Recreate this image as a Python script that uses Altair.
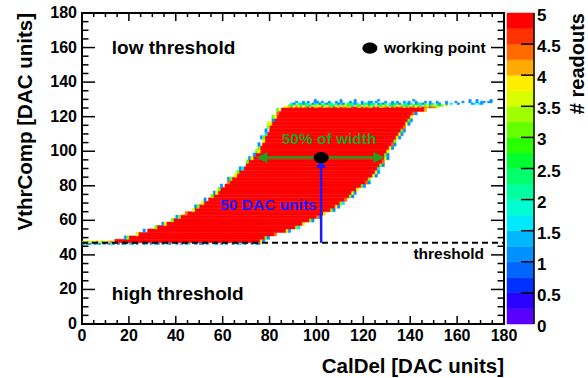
import altair as alt
import pandas as pd

FONT = "Liberation Sans"
W, H = 422, 311  # plot frame in pixels

# ---- palette: 20 contour levels of "# readouts" from 0 to 5 ----
level_lo = [0.0, 0.25, 0.5, 0.75, 1.0, 1.25, 1.5, 1.75, 2.0, 2.25,
            2.5, 2.75, 3.0, 3.25, 3.5, 3.75, 4.0, 4.25, 4.5, 4.75]
palette = ["#5a00ff", "#2a00ff", "#0030ff", "#0066ff", "#0090ff",
           "#00b8ff", "#00eaff", "#00ffd0", "#00ffa0", "#00ff6a",
           "#00ff30", "#2aff00", "#66ff00", "#a0ff00", "#d8ff00",
           "#ffee00", "#ffaa00", "#ff6a00", "#ff3300", "#ff0000"]
bar_labels = ["0", "0.5", "1", "1.5", "2", "2.5", "3", "3.5", "4", "4.5", "5"]
bar_ticks = [0.5, 1.0, 1.5, 2.0, 2.5, 3.0, 3.5, 4.0, 4.5]

# readout counts used for the speckled edge cells
codes = {"r": 5.0, "R": 4.6, "o": 4.4, "a": 4.1, "y": 3.9, "l": 3.6,
         "g": 3.1, "G": 2.6, "e": 2.1, "c": 1.6, "b": 1.1, "B": 0.9}

# ---- fully efficient plateau (5 readouts), rows of 2 VthrComp units ----
row_bottom = [47, 49, 51, 53, 55, 57, 59, 61, 63, 65, 67, 69, 71, 73, 75,
              77, 79, 81, 83, 85, 87, 89, 91, 93, 95, 97, 99, 101, 103, 105,
              107, 109, 111, 113, 115, 117, 119, 121, 123]
row_left = [14, 20, 24, 28, 32, 36, 39, 42, 45, 48, 50, 52, 54, 56, 58,
            59, 61, 63, 64, 66, 67, 69, 70, 71, 73, 74, 76, 76, 77, 78,
            78, 79, 80, 80, 81, 82, 83, 84, 85]
row_right = [76, 78, 82, 87, 91, 94, 97, 100, 103, 106, 108, 110, 112, 114, 115,
             117, 119, 121, 122, 124, 125, 126, 127, 128, 129, 129, 130, 131, 132, 133,
             134, 135, 136, 137, 138, 139, 140, 141, 146]
# partially efficient cells just outside the plateau (outer, inner) / (inner, outer)
left_edge = ["..", "bg", ".l", "b.", ".g", "by", ".g", "bg", ".o", ".l",
             "bg", ".y", "b.", ".g", "bl", ".g", "b.", ".o", "bg", ".l",
             ".g", "bc", "..", ".g", "bl", ".b", "gy", ".g", "b.", ".l",
             "bg", ".c", "b.", ".g", "ly", ".b", "gl", ".o", "g."]
right_edge = ["yb", "gb", "o.", "lb", "gc", "y.", "gb", "ob", "l.", "gb",
              "yb", "gc", "o.", "gb", "lb", "y.", "gb", "ob", "g.", "lb",
              "yb", "c.", "gb", "o.", "lb", "gb", "y.", "lb", "ob", "g.",
              "lb", "yb", "gb", "o.", "lb", "gb", "y.", "ob", "a."]

# single-unit speckle rows: (VthrComp, first CalDel, cells)
speckle_rows = [
    (46, 0, "bcbb.bcb.b.bcb.b.bb.cb.b..bc.b.bb.b.cb..b.b.bc..b.bb.b..cb.b.b..b.bc.b..b.bb"),
    (47, 0, "gyalgyoyglyaoy"),
    (125, 86, "lyaoyRaoyoRaryaoRyaoaRoyRaoyaRroyRaoayRoRyaoRyRaroRyoaRoyRaroaRooy"),
    (126, 88, "gGlgyGlgeGlglyGglgcGlgyglGgclgGyglGgelgGlglcGgylgeGglGlgcyglGglgGg.l"),
    (127, 89, "cb.ecbGc.bceb.cbGe.cbcb.eGcbc.bcebGc.bcbe.cbGcb.ecbc.bGcbe.bc.cb..b.c..b.....bc.cb"),
    (128, 90, ".b..b.b..bb.b..b..b.b...b.b..b..bb.b...b..b.b..b.b..b...b.b..b...b...b..b..b..b.bb.bb"),
    (129, 95, "....b..........b.....b.........b..............b.......................b..b.....b"),
]

cells = []
for y_row, x0, s in speckle_rows:
    for k, ch in enumerate(s):
        if ch != "." and x0 + k < 180:
            cells.append((x0 + k, x0 + k + 1, y_row, y_row + 1, codes[ch]))
for yb, xl, xr, le, re in zip(row_bottom, row_left, row_right, left_edge, right_edge):
    cells.append((xl, xr, yb, yb + 2, 5.0))
    for k, ch in enumerate(le):
        if ch != ".":
            cells.append((xl - 2 + k, xl - 1 + k, yb, yb + 2, codes[ch]))
    for k, ch in enumerate(re):
        if ch != ".":
            cells.append((xr + k, xr + k + 1, yb, yb + 2, codes[ch]))
cells_df = pd.DataFrame(cells, columns=["x1", "x2", "y1", "y2", "v"])

# ---- axes ----
x_major = [0, 20, 40, 60, 80, 100, 120, 140, 160, 180]
y_major = [0, 20, 40, 60, 80, 100, 120, 140, 160, 180]
minor = [v for v in range(0, 181, 5) if v % 20]

# ---- annotations ----
threshold = 47
working_point = (102, 96.3)
width_arrow = (74.4, 129.0)
dac_arrow_top = 93.5

XS = alt.Scale(domain=[0, 180], nice=False, zero=False)
YS = alt.Scale(domain=[0, 180], nice=False, zero=False)
ZS = alt.Scale(domain=[0, 5], nice=False, zero=False)
CS = alt.Scale(type="threshold", domain=level_lo[1:], range=palette)


def X(field):
    return alt.X(field, type="quantitative", scale=XS, axis=None)


def Y(field):
    return alt.Y(field, type="quantitative", scale=YS, axis=None)


heat = alt.Chart(cells_df).mark_rect(strokeWidth=0.5).encode(
    x=X("x1"), x2="x2:Q", y=Y("y1"), y2="y2:Q",
    color=alt.Color("v:Q", scale=CS, legend=None),
    stroke=alt.Stroke("v:Q", scale=CS, legend=None),
)

thr_line = alt.Chart(pd.DataFrame({"x1": [0], "x2": [180], "y": [threshold]})).mark_rule(
    color="black", strokeWidth=2, strokeDash=[6, 4]
).encode(x=X("x1"), x2="x2:Q", y=Y("y"))

BLUE = "#1a1aff"
GREEN = "#1f9e1f"

dac_line = alt.Chart(pd.DataFrame({"x": [working_point[0]], "y1": [threshold], "y2": [dac_arrow_top]})).mark_rule(
    color=BLUE, strokeWidth=2.5
).encode(x=X("x"), y=Y("y1"), y2="y2:Q")
dac_head = alt.Chart(pd.DataFrame({"x": [working_point[0]], "y": [dac_arrow_top + 1.5]})).mark_point(
    shape="M0,0L-1,1.6L1,1.6Z", filled=True, opacity=1, size=100, color=BLUE
).encode(x=X("x"), y=Y("y"))

width_line = alt.Chart(pd.DataFrame({"x1": [width_arrow[0] + 2], "x2": [width_arrow[1] - 2],
                                     "y": [working_point[1]]})).mark_rule(
    color=GREEN, strokeWidth=2.5
).encode(x=X("x1"), x2="x2:Q", y=Y("y"))
head_left = alt.Chart(pd.DataFrame({"x": [width_arrow[0]], "y": [working_point[1]]})).mark_point(
    shape="M0,0L2,-1L2,1Z", filled=True, opacity=1, size=121, color=GREEN
).encode(x=X("x"), y=Y("y"))
head_right = alt.Chart(pd.DataFrame({"x": [width_arrow[1]], "y": [working_point[1]]})).mark_point(
    shape="M0,0L-2,-1L-2,1Z", filled=True, opacity=1, size=121, color=GREEN
).encode(x=X("x"), y=Y("y"))

ELLIPSE = "M-1,0A1,0.75 0 1,1 1,0A1,0.75 0 1,1 -1,0Z"
points = alt.Chart(pd.DataFrame({"x": [working_point[0], 122.8], "y": [working_point[1], 159.7]})).mark_point(
    shape=ELLIPSE, filled=True, opacity=1, size=225, color="black"
).encode(x=X("x"), y=Y("y"))


def label(text, x, y, size, color="black", align="left"):
    return alt.Chart(pd.DataFrame({"t": [text], "x": [x], "y": [y]})).mark_text(
        font=FONT, fontWeight="bold", fontSize=size, color=color, align=align, baseline="alphabetic"
    ).encode(x=X("x"), y=Y("y"), text="t:N")


texts = [
    label("low threshold", 12.7, 156.3, 19),
    label("high threshold", 12.7, 13.9, 19),
    label("working point", 128.8, 156.8, 15.5),
    label("threshold", 171.5, 37.6, 15.5, align="right"),
    label("50 DAC units", 100.1, 66.0, 15.5, color=BLUE, align="right"),
    label("50% of width", 105.4, 104.0, 15.5, color=GREEN, align="center"),
]

# tick labels of both axes
x_labels = alt.Chart(pd.DataFrame({"v": x_major, "t": [str(v) for v in x_major]})).mark_text(
    font=FONT, fontWeight="bold", fontSize=16, color="black", align="center", baseline="top"
).encode(x=X("v"), y=alt.value(H + 4), text="t:N")
y_labels = alt.Chart(pd.DataFrame({"v": y_major, "t": [str(v) for v in y_major]})).mark_text(
    font=FONT, fontWeight="bold", fontSize=16, color="black", align="right", baseline="middle"
).encode(y=Y("v"), x=alt.value(-5), text="t:N")


def xticks(values, length, top):
    y0, y1 = (0, length) if top else (H, H - length)
    return alt.Chart(pd.DataFrame({"v": values})).mark_rule(color="black", strokeWidth=1.5).encode(
        x=X("v"), y=alt.value(y0), y2=alt.value(y1))


def yticks(values, length, right):
    x0, x1 = (W, W - length) if right else (0, length)
    return alt.Chart(pd.DataFrame({"v": values})).mark_rule(color="black", strokeWidth=1.5).encode(
        y=Y("v"), x=alt.value(x0), x2=alt.value(x1))


ticks = [xticks(x_major, 8, False), xticks(minor, 4, False),
         xticks(x_major, 8, True), xticks(minor, 4, True),
         yticks(y_major, 13, False), yticks(minor, 6.5, False),
         yticks(y_major, 13, True), yticks(minor, 6.5, True)]


def title(text, x, y, angle=0, size=20.5):
    return alt.Chart(pd.DataFrame({"t": [text]})).mark_text(
        font=FONT, fontWeight="bold", fontSize=size, color="black", align="right",
        baseline="alphabetic", angle=angle
    ).encode(x=alt.value(x), y=alt.value(y), text="t:N")


main = alt.layer(heat, thr_line, dac_line, dac_head, width_line, head_left, head_right,
                 points, *texts, x_labels, y_labels, *ticks,
                 title("CalDel [DAC units]", W, 359.5),
                 title("VthrComp [DAC units]", -50, 0, angle=270))

# ---- colour bar ----
bar_df = pd.DataFrame({"lo": level_lo, "hi": [v + 0.25 for v in level_lo],
                       "v": [v + 0.125 for v in level_lo]})
BX0, BX1 = 425, 452
bar = alt.Chart(bar_df).mark_rect(strokeWidth=0.5).encode(
    x=alt.value(BX0), x2=alt.value(BX1),
    y=alt.Y("lo:Q", scale=ZS, axis=None), y2="hi:Q",
    color=alt.Color("v:Q", scale=CS, legend=None),
    stroke=alt.Stroke("v:Q", scale=CS, legend=None),
)
bar_edge = alt.Chart(pd.DataFrame({"v": [0], "w": [5]})).mark_rule(color="black", strokeWidth=1.5).encode(
    x=alt.value(BX1), y=alt.Y("v:Q", scale=ZS, axis=None), y2="w:Q")
bar_tick = alt.Chart(pd.DataFrame({"v": bar_ticks})).mark_rule(color="black", strokeWidth=1.5).encode(
    x=alt.value(BX1), x2=alt.value(BX1 - 13), y=alt.Y("v:Q", scale=ZS, axis=None))
bar_text = alt.Chart(pd.DataFrame({"v": [0.5 * i for i in range(11)], "t": bar_labels})).mark_text(
    font=FONT, fontWeight="bold", fontSize=17, color="black", align="left", baseline="middle", dy=3
).encode(x=alt.value(BX1 + 3), y=alt.Y("v:Q", scale=ZS, axis=None), text="t:N")
bar_title = title("# readouts", 502, 0, angle=270, size=20)

colorbar = alt.layer(bar, bar_edge, bar_tick, bar_text, bar_title)

chart = alt.layer(main, colorbar).resolve_scale(y="independent").properties(
    width=W, height=H,
    padding={"left": 82, "top": 13, "right": 84, "bottom": 54},
    autosize=alt.AutoSizeParams(type="none"),
    background="white",
).configure_view(stroke="black", strokeWidth=2)

chart.save("out.html", embed_options={"renderer": "svg", "actions": False})
